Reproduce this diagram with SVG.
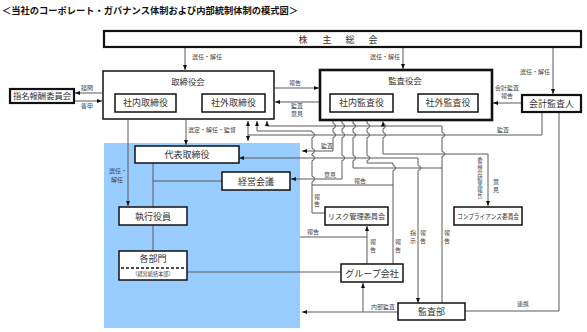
<svg xmlns="http://www.w3.org/2000/svg" width="587" height="332" viewBox="0 0 587 332">
<style>
text{font-family:"Liberation Serif","Noto Sans CJK JP",serif;fill:#333}
.t{font-family:"Liberation Sans","Noto Sans CJK JP",sans-serif;font-weight:bold;font-size:9.3px;fill:#111}
.bx{font-size:9px;text-anchor:middle}
.ti{font-size:8.4px}
.lb{font-size:6px;text-anchor:middle;fill:#444}
.n{fill:#fff;stroke:#111;stroke-width:1.5}
.nk{fill:#fff;stroke:#111;stroke-width:2.2}
.c path{fill:none;stroke:#5a5a5a;stroke-width:1}
.a{marker-end:url(#ah)}
.aa{marker-start:url(#ah);marker-end:url(#ah)}
</style>
<defs>
<marker id="ah" viewBox="0 0 5 4" refX="5" refY="2" markerWidth="5" markerHeight="4" markerUnits="userSpaceOnUse" orient="auto-start-reverse"><path d="M0,0 L5,2 L0,4 z" fill="#111"/></marker>
</defs>
<rect width="587" height="332" fill="#fff"/>
<text class="t" x="2" y="13.5" textLength="296" lengthAdjust="spacingAndGlyphs">＜当社のコーポレート・ガバナンス体制および内部統制体制の模式図＞</text>
<rect id="exec-area" x="104" y="143" width="196" height="185" fill="#99ccff"/>

<g class="c" id="connectors">
<path class="a" d="M185,48 V70"/>
<path class="a" d="M403,48 V69"/>
<path class="a" d="M553,48 V94"/>
<path class="a" d="M102,93 H75"/>
<path class="a" d="M75,101 H102"/>
<path class="a" d="M275,88 H319"/>
<path class="a" d="M319,102 H275"/>
<path class="a" d="M521,103 H493"/>
<path class="a" d="M186,120 V145"/>
<path class="a" d="M128,120 V206"/>
<path d="M153,163 V207"/>
<path d="M153,181 H222"/>
<path d="M153,225 V251"/>
<path d="M187,272 H341"/>
<path d="M542,112 V135 H248"/>
<path class="aa" d="M248,121 V141"/>
<path class="a" d="M326,213 H312 V181.5 a2.5,2.5 0 0 0 0,-5 V160.5 a2.5,2.5 0 0 0 0,-5 V153.5 a2.5,2.5 0 0 0 0,-5 V137.5 a2.5,2.5 0 0 0 0,-5 V131 H257 V121"/>
<path class="a" d="M333,112 V123.5 a2.5,2.5 0 0 1 0,5 V132.5 a2.5,2.5 0 0 1 0,5 V151 H302"/>
<path class="a" d="M342,112 V123.5 a2.5,2.5 0 0 1 0,5 V132.5 a2.5,2.5 0 0 1 0,5 V155.5 a2.5,2.5 0 0 1 0,5 V179 H291"/>
<path class="a" d="M442,168 H353 V160.5 a2.5,2.5 0 0 0 0,-5 V137.5 a2.5,2.5 0 0 0 0,-5 V128.5 a2.5,2.5 0 0 0 0,-5 V113"/>
<path class="a" d="M442,303 V156.5 a2.5,2.5 0 0 0 0,-5 V137.5 a2.5,2.5 0 0 0 0,-5 V126 H267 V121"/>
<path class="a" d="M393,264 V170.5 a2.5,2.5 0 0 0 0,-5 V163 H367 V160.5 a2.5,2.5 0 0 0 0,-5 V137.5 a2.5,2.5 0 0 0 0,-5 V128.5 a2.5,2.5 0 0 0 0,-5 V113"/>
<path d="M393,185 H312"/>
<path class="aa" d="M239,158 H418 V165.5 a2.5,2.5 0 0 1 0,5 V303"/>
<path class="aa" d="M488,206 V154 H383 V137.5 a2.5,2.5 0 0 0 0,-5 V128.5 a2.5,2.5 0 0 0 0,-5 V121.5"/>
<path class="a" d="M367,264 V226"/>
<path d="M300,237 H367"/>
<path class="a" d="M398,312 H302"/>
<path class="a" d="M363,312 V283"/>
<path d="M465,311 H559 V112"/>
</g>

<g id="labels">
<text class="lb" x="207" y="59">選任・解任</text>
<text class="lb" x="385" y="59">選任・解任</text>
<text class="lb" x="535" y="74">選任・解任</text>
<text class="lb" x="87" y="90">諮問</text>
<text class="lb" x="87" y="108">答申</text>
<text class="lb" x="295" y="85">報告</text>
<text class="lb" x="297" y="108">監査</text>
<text class="lb" x="297" y="116">意見</text>
<text class="lb" x="507" y="90">会計監査</text>
<text class="lb" x="507" y="98">報告</text>
<text class="lb" x="212" y="132">選定・解任・監督</text>
<text class="lb" x="118" y="173">選任・</text>
<text class="lb" x="117" y="182">解任</text>
<text class="lb" x="503" y="132">監査</text>
<text class="lb" x="327" y="148">監査</text>
<text class="lb" x="330" y="177">意見</text>
<text class="lb" x="360" y="183">報告</text>
<text class="lb" x="317" y="199">報<tspan x="317" y="206">告</tspan></text>
<text class="lb" x="313" y="234">報告</text>
<text class="lb" x="373" y="244">報<tspan x="373" y="252">告</tspan></text>
<text class="lb" x="398" y="244">報<tspan x="398" y="252">告</tspan></text>
<text class="lb" x="413" y="235">指<tspan x="413" y="243">示</tspan></text>
<text class="lb" x="423" y="235">報<tspan x="423" y="243">告</tspan></text>
<text class="lb" x="447" y="235">報<tspan x="447" y="243">告</tspan></text>
<text class="lb" x="480" y="162" style="font-size:5.4px">委<tspan x="480" y="168">員</tspan><tspan x="480" y="174">会</tspan><tspan x="480" y="180">結</tspan><tspan x="480" y="186">果</tspan><tspan x="480" y="192">報</tspan><tspan x="480" y="198">告</tspan></text>
<text class="lb" x="496" y="184">意<tspan x="496" y="192">見</tspan></text>
<text class="lb" x="383" y="309">内部監査</text>
<text class="lb" x="523" y="306">連携</text>
</g>

<g id="shareholders"><rect class="nk" x="104" y="31" width="477" height="16"/><text class="bx" x="303 327 350 373" y="42.5">株主総会</text></g>
<g id="board"><rect class="n" x="103" y="71" width="171" height="48"/><text class="bx ti" x="188" y="85">取締役会</text></g>
<g id="inside-directors"><rect class="n" x="115" y="94" width="61" height="18"/><text class="bx" x="145.5" y="106">社内取締役</text></g>
<g id="outside-directors"><rect class="n" x="202" y="94" width="63" height="18"/><text class="bx" x="233.5" y="106">社外取締役</text></g>
<g id="nomination"><rect class="nk" x="10" y="89" width="64" height="14"/><text class="bx" x="42" y="99" style="font-size:8.3px">指名報酬委員会</text></g>
<g id="audit-board"><rect class="n" style="stroke-width:2.6" x="320" y="70" width="172" height="50"/><text class="bx ti" x="405" y="84">監査役会</text></g>
<g id="inside-auditors"><rect class="n" x="330" y="94" width="63" height="18"/><text class="bx" x="361.5" y="106">社内監査役</text></g>
<g id="outside-auditors"><rect class="n" x="418" y="94" width="60" height="18"/><text class="bx" x="448" y="106">社外監査役</text></g>
<g id="accounting-auditor"><rect class="nk" x="522" y="95" width="59" height="17"/><text class="bx" x="551.5" y="106.5">会計監査人</text></g>
<g id="ceo"><rect class="n" x="135" y="146" width="104" height="17"/><text class="bx" x="187" y="157.5">代表取締役</text></g>
<g id="mgmt-meeting"><rect class="n" x="222" y="172" width="68" height="18"/><text class="bx" x="256" y="184.5">経営会議</text></g>
<g id="officers"><rect class="n" x="119" y="207" width="68" height="18"/><text class="bx" x="153" y="219.5">執行役員</text></g>
<g id="divisions"><rect class="n" x="119" y="251" width="68" height="29"/><text class="bx" x="153" y="262">各部門</text><path d="M121,268 H185" stroke="#111" stroke-width="1.3" stroke-dasharray="3,2"/><text class="bx" x="153" y="276" style="font-size:5.2px">（経営統括本部）</text></g>
<g id="risk"><rect class="n" x="325" y="207" width="63" height="18"/><text class="bx" x="356.5" y="219" style="font-size:7.2px">リスク管理委員会</text></g>
<g id="compliance"><rect class="n" x="454" y="207" width="68" height="18"/><text class="bx" x="488" y="219" style="font-size:7px" textLength="62" lengthAdjust="spacingAndGlyphs">コンプライアンス委員会</text></g>
<g id="group"><rect class="n" x="341" y="264" width="62" height="18"/><text class="bx" x="372" y="276.5">グループ会社</text></g>
<g id="audit-dept"><rect class="n" x="398" y="303" width="67" height="17"/><text class="bx" x="431.5" y="315">監査部</text></g>
</svg>
